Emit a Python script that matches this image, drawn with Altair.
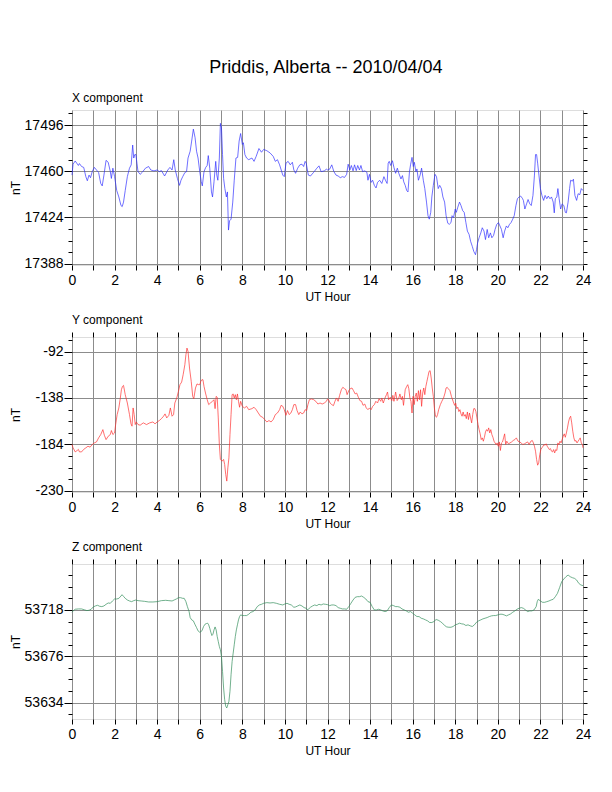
import altair as alt
import pandas as pd

FONT = "Liberation Sans"
GRID = "#8c8c8c"

# ---------------- X component (nT) ----------------
x_hours = [0.00, 0.05, 0.15, 0.30, 0.35, 0.45, 0.55, 0.65, 0.72, 0.80, 0.87, 0.95, 1.05, 1.15, 1.25, 1.35, 1.42, 1.50, 1.60, 1.70,
           1.80, 1.85, 1.92, 2.00, 2.10, 2.20, 2.30, 2.36, 2.42, 2.50, 2.60, 2.70, 2.78, 2.85, 2.90, 2.95, 3.00, 3.05, 3.10, 3.20,
           3.30, 3.45, 3.60, 3.70, 3.85, 4.00, 4.10, 4.20, 4.35, 4.50, 4.60, 4.70, 4.78, 4.85, 4.95, 5.05, 5.12, 5.20, 5.30, 5.38,
           5.45, 5.55, 5.62, 5.70, 5.78, 5.85, 5.92, 6.00, 6.07, 6.12, 6.20, 6.28, 6.35, 6.40, 6.47, 6.55, 6.60, 6.67, 6.75, 6.80,
           6.85, 6.92, 6.97, 7.02, 7.07, 7.12, 7.18, 7.25, 7.30, 7.35, 7.40, 7.47, 7.55, 7.62, 7.70, 7.78, 7.85, 7.92, 8.00, 8.05,
           8.12, 8.20, 8.30, 8.45, 8.55, 8.65, 8.78, 8.90, 9.00, 9.15, 9.30, 9.45, 9.55, 9.65, 9.75, 9.90, 9.97, 10.05, 10.15, 10.25,
           10.35, 10.42, 10.50, 10.60, 10.70, 10.80, 10.88, 10.95, 11.00, 11.10, 11.20, 11.35, 11.50, 11.60, 11.70, 11.85, 11.95, 12.00,
           12.10, 12.20, 12.30, 12.40, 12.50, 12.60, 12.70, 12.80, 12.90, 12.97, 13.05, 13.12, 13.20, 13.27, 13.35, 13.42, 13.50, 13.57,
           13.65, 13.75, 13.85, 13.90, 13.97, 14.05, 14.12, 14.20, 14.28, 14.35, 14.45, 14.55, 14.65, 14.72, 14.80, 14.85, 14.90, 14.97,
           15.05, 15.12, 15.20, 15.28, 15.35, 15.45, 15.52, 15.58, 15.65, 15.72, 15.78, 15.85, 15.90, 15.97, 16.03, 16.08, 16.15, 16.20,
           16.27, 16.35, 16.42, 16.50, 16.57, 16.65, 16.72, 16.78, 16.85, 16.90, 16.97, 17.05, 17.12, 17.20, 17.27, 17.35, 17.42, 17.50,
           17.57, 17.65, 17.72, 17.80, 17.85, 17.92, 18.00, 18.05, 18.12, 18.20, 18.27, 18.35, 18.42, 18.50, 18.57, 18.65, 18.72, 18.80,
           18.87, 18.95, 19.00, 19.05, 19.12, 19.20, 19.27, 19.35, 19.42, 19.50, 19.57, 19.65, 19.72, 19.80, 19.87, 19.95, 20.03, 20.10,
           20.17, 20.25, 20.32, 20.40, 20.47, 20.55, 20.62, 20.70, 20.77, 20.85, 20.92, 21.00, 21.07, 21.15, 21.20, 21.27, 21.35, 21.42,
           21.50, 21.57, 21.65, 21.72, 21.77, 21.82, 21.87, 21.93, 22.00, 22.07, 22.15, 22.22, 22.30, 22.37, 22.45, 22.52, 22.60, 22.65,
           22.70, 22.77, 22.82, 22.88, 22.95, 23.02, 23.10, 23.17, 23.22, 23.30, 23.37, 23.42, 23.50, 23.55, 23.62, 23.70, 23.77, 23.85,
           23.92, 24.00]
x_nt = [17457, 17465.5, 17468, 17464.5, 17466, 17463.7, 17463, 17455.8, 17452.6, 17457, 17455, 17459.7, 17463, 17461, 17459, 17450.5, 17448.6, 17457, 17468.5, 17467,
        17459.7, 17454.4, 17462.4, 17455.8, 17445, 17440, 17433.3, 17432.5, 17436, 17445, 17455.8, 17462.4, 17465, 17480.4, 17470.3, 17473, 17473, 17466.3, 17459.7, 17457.6,
        17459.2, 17462.4, 17463.7, 17461, 17460.3, 17461, 17459.7, 17460.5, 17456.3, 17461, 17463, 17461, 17469, 17461, 17454.4, 17449, 17453, 17455.8, 17459, 17459.7,
        17470.3, 17475.6, 17483.5, 17492.8, 17486.2, 17475.6, 17470.3, 17459.7, 17451.8, 17448.6, 17459.7, 17463, 17464.5, 17472.2, 17462.4, 17443.9, 17440, 17451.8, 17467.7, 17457,
        17453, 17470.3, 17497.3, 17494, 17473, 17454.4, 17446.5, 17440, 17443.9, 17414.2, 17421.4, 17422.7, 17436, 17453, 17470.3, 17470.8, 17483.5, 17489.4, 17480.9, 17482.2,
        17473, 17470.3, 17469, 17470.3, 17467.7, 17471.6, 17477.7, 17474.8, 17477, 17476, 17474.3, 17471.6, 17467.7, 17469, 17465, 17457, 17455.8, 17466.3, 17467.7, 17465,
        17467, 17461, 17458.4, 17462.4, 17465, 17465.5, 17463.7, 17467.7, 17466.3, 17457, 17456.3, 17459.2, 17462.4, 17464.2, 17459.7, 17460.3, 17461.6, 17461,
        17461.6, 17465, 17459.7, 17457, 17456.3, 17455, 17455.8, 17455.2, 17457.6, 17465.5, 17461, 17464.5, 17460.3, 17465, 17460.5, 17464.5, 17461, 17464.5,
        17459.7, 17460.3, 17459.2, 17453, 17457.6, 17451.3, 17453, 17449, 17447, 17451.3, 17453, 17450.5, 17455.8, 17453, 17450.5, 17466.3, 17467.7, 17464.5,
        17468.2, 17463, 17458.4, 17462.4, 17458.4, 17454, 17456.6, 17451.8, 17449, 17445, 17443.9, 17459.7, 17465, 17470.8, 17463.7, 17467, 17459.7, 17461.8,
        17453, 17457, 17462.4, 17453, 17446.5, 17436, 17425.4, 17422.7, 17428, 17440, 17449, 17457.6, 17455.8, 17446.5, 17449, 17446.5, 17440, 17436,
        17425.4, 17419.5, 17418.7, 17420, 17425.4, 17424, 17430.6, 17428, 17432, 17436, 17433.3, 17429.3, 17428, 17420, 17413.4, 17410.8, 17405.5, 17401.5,
        17397.6, 17395, 17398.9, 17404.2, 17408.2, 17412, 17416, 17413.4, 17406.8, 17414.7, 17408.2, 17412, 17408.2, 17410, 17414.7, 17418.7, 17420, 17417.4,
        17414.7, 17408.2, 17413.4, 17417.4, 17416, 17418.7, 17420, 17422.7, 17425.4, 17433.3, 17438.6, 17440, 17440.7, 17439, 17437.3, 17430.6, 17434.6, 17438,
        17434.6, 17433.3, 17441.2, 17457, 17473, 17473, 17466.3, 17457, 17446.5, 17441.2, 17437.3, 17441.2, 17438.6, 17440.7, 17438.6, 17440, 17436, 17427.6,
        17438.6, 17440, 17446.5, 17438.6, 17430.6, 17434.6, 17433.3, 17428, 17427.6, 17436, 17446.5, 17453, 17452.3, 17453.8, 17441.2, 17437.3, 17442.5, 17441.8,
        17446.5, 17445]

# ---------------- Y component (nT) ----------------
y_hours = [0.00, 0.05, 0.15, 0.25, 0.30, 0.35, 0.45, 0.55, 0.65, 0.75, 0.85, 0.95, 1.05, 1.15, 1.25, 1.35, 1.45, 1.52, 1.60, 1.70,
           1.80, 1.85, 1.92, 2.00, 2.05, 2.12, 2.20, 2.27, 2.32, 2.37, 2.42, 2.50, 2.60, 2.70, 2.77, 2.82, 2.87, 2.92, 2.97, 3.02,
           3.10, 3.20, 3.35, 3.50, 3.65, 3.80, 3.90, 4.00, 4.10, 4.20, 4.30, 4.37, 4.45, 4.55, 4.62, 4.70, 4.77, 4.83, 4.92, 5.00,
           5.07, 5.15, 5.22, 5.30, 5.35, 5.40, 5.45, 5.52, 5.60, 5.67, 5.72, 5.80, 5.87, 5.95, 6.00, 6.05, 6.10, 6.15, 6.20, 6.27,
           6.35, 6.42, 6.50, 6.60, 6.67, 6.72, 6.77, 6.82, 6.87, 6.92, 6.97, 7.05, 7.12, 7.17, 7.22, 7.27, 7.32, 7.37, 7.42, 7.47,
           7.52, 7.57, 7.62, 7.67, 7.72, 7.77, 7.82, 7.87, 7.92, 8.00, 8.10, 8.20, 8.30, 8.45, 8.55, 8.65, 8.75, 8.85, 8.95, 9.05,
           9.15, 9.25, 9.35, 9.45, 9.55, 9.65, 9.75, 9.82, 9.90, 9.97, 10.05, 10.12, 10.20, 10.28, 10.35, 10.42, 10.50, 10.57, 10.65, 10.72,
           10.80, 10.88, 10.95, 11.02, 11.08, 11.15, 11.25, 11.35, 11.45, 11.55, 11.65, 11.75, 11.85, 11.95, 12.00,
           12.05, 12.12, 12.20, 12.28, 12.35, 12.42, 12.50, 12.57, 12.65, 12.72, 12.80, 12.87, 12.92, 13.00, 13.07, 13.15, 13.22, 13.30,
           13.37, 13.45, 13.52, 13.60, 13.67, 13.75, 13.82, 13.90, 13.97, 14.05, 14.12, 14.20, 14.27, 14.35, 14.42, 14.50, 14.55, 14.62,
           14.70, 14.77, 14.82, 14.87, 14.95, 15.02, 15.07, 15.12, 15.20, 15.27, 15.35, 15.40, 15.47, 15.52, 15.57, 15.65, 15.72, 15.77,
           15.82, 15.87, 15.92, 15.97, 16.02, 16.07, 16.12, 16.17, 16.22, 16.27, 16.32, 16.37, 16.42, 16.47, 16.52, 16.57, 16.62, 16.67,
           16.72, 16.77, 16.82, 16.87, 16.92, 16.97, 17.02, 17.07, 17.12, 17.17, 17.22, 17.30, 17.37, 17.45, 17.52, 17.57, 17.62, 17.67,
           17.75, 17.82, 17.90, 17.97, 18.02, 18.07, 18.12, 18.17, 18.22, 18.27, 18.32, 18.37, 18.42, 18.47, 18.52, 18.57, 18.62, 18.67,
           18.72, 18.77, 18.82, 18.87, 18.92, 18.97, 19.02, 19.07, 19.12, 19.17, 19.22, 19.27, 19.32, 19.37, 19.42, 19.47, 19.52, 19.57,
           19.62, 19.67, 19.72, 19.77, 19.82, 19.87, 19.92, 19.97, 20.02, 20.07, 20.12, 20.17, 20.22, 20.27, 20.32, 20.37, 20.42, 20.50,
           20.57, 20.65, 20.72, 20.80, 20.87, 20.95, 21.02, 21.10, 21.17, 21.25, 21.32, 21.40, 21.47, 21.55, 21.62, 21.67, 21.72, 21.77,
           21.82, 21.87, 21.92, 21.97, 22.02, 22.07, 22.12, 22.17, 22.22, 22.27, 22.32, 22.37, 22.42, 22.47, 22.52, 22.57, 22.62, 22.67,
           22.72, 22.77, 22.82, 22.87, 22.92, 22.97, 23.02, 23.07, 23.12, 23.17, 23.22, 23.27, 23.32, 23.37, 23.42, 23.47, 23.52, 23.57,
           23.62, 23.67, 23.72, 23.77, 23.82, 23.87, 23.92, 23.97, 24.00]
y_nt = [-184.2, -187.5, -191.5, -190, -189, -191.5, -191.5, -189, -187.5, -185.9, -186.8, -184.2, -182.6, -181.6, -177.6, -174.3, -169.4, -175, -179.3, -176,
        -174.3, -170.3, -174.3, -172.7, -164.4, -154.5, -147.9, -138, -129.8, -126.5, -125.5, -134.7, -143, -154.5, -163.7, -166, -147.9, -154.5, -164.4, -161.8,
        -164.4, -165, -162.7, -164.4, -162.7, -161.8, -163.7, -161.8, -160.4, -158.5, -156.1, -153.8, -157.8, -155.2, -147.9, -156.1, -154.5, -143, -138, -131.4,
        -124.8, -122.2, -114.9, -105, -95.1, -88.5, -91.8, -108.3, -121.5, -136.4, -138.7, -128.1, -124.1, -124.8, -124.8, -121.5, -119.9, -119.9, -126.5, -133.1,
        -139.7, -144.6, -143, -141.3, -139.7, -148.6, -136.4, -137.3, -157.8, -184.2, -199, -200.7, -199, -204, -213.9, -220.5, -207.3, -197.4, -174.3, -154.5,
        -134.7, -134, -138, -134.7, -139.7, -134, -141.3, -147.2, -141.3, -146.3, -147.9, -146.3, -149.6, -148.6, -147.2, -149.6, -152.9, -156.1, -157.1, -159.4,
        -161.8, -160.4, -161.8, -159.4, -154.5, -152.9, -149.6, -145.3, -146.3, -149.6, -155.2, -150.5, -154.5, -152.9, -149.6, -144.6, -144.6, -150.5, -154.5, -151.9,
        -153.8, -152.9, -149.6, -150.5, -144.6, -139.7, -139, -139.7, -141.3, -144, -143, -144, -143, -141.3, -139,
        -139.7, -143, -144.6, -145.6, -141.3, -138, -141.3, -135.4, -129.8, -127.4, -128.8, -129.8, -134.7, -130.7, -128.8, -128.1, -130.7, -134,
        -133.1, -137.3, -140.6, -141.3, -145.3, -144, -147.9, -149.6, -147.9, -149.6, -146.3, -144.6, -141.3, -143, -138.7, -141.3, -138, -143,
        -138, -134.7, -132.1, -139.7, -137.3, -140.6, -135.4, -141.3, -132.1, -140.6, -138, -134, -139.7, -136.4, -145.3, -129.8, -126.5, -124.8,
        -128.8, -138, -141.3, -152.9, -136.4, -144.6, -136.4, -133.1, -141.3, -130.7, -139.7, -129.8, -146.3, -133.1, -128.1, -134.7, -126.5, -121.5,
        -116.6, -111.6, -110.9, -118.2, -128.1, -136.4, -147.9, -156.1, -157.1, -154.5, -149.6, -144.6, -141.3, -138, -133.1, -128.1, -127.4, -128.8,
        -130.7, -136.4, -141.3, -145.3, -143, -148.6, -147.2, -151.5, -149.6, -153.8, -156.1, -151.9, -156.1, -154.5, -158.5, -151.9, -159.4, -152.9,
        -157.8, -162.7, -154.5, -148.6, -148.6, -151.5, -157.8, -164.4, -169.4, -173.6, -179.3, -177.6, -180.9, -177, -171.7, -169.4, -171, -167.7,
        -172.7, -169.4, -174.3, -177, -180.9, -182.6, -184.2, -182.6, -185.9, -181.6, -190.1, -182.6, -181.6, -177.6, -173.6, -184.2, -180.9, -183.5,
        -182.6, -181.6, -180.2, -179.3, -177.6, -180.9, -181.6, -182.6, -184.2, -183.5, -182.6, -181.6, -184.2, -180.9, -180.2, -182.6, -185.9, -190.8,
        -199, -204.7, -202.3, -194.1, -189.2, -187.5, -185.9, -184.2, -184.9, -183.5, -185.9, -187.5, -189.2, -188.2, -190.8, -191.5, -189.2, -192.5,
        -189.2, -190.1, -182.6, -184.2, -180.9, -182.6, -179.3, -176, -173.6, -177, -172.7, -167.7, -161.8, -157.8, -156.1, -162.7, -171, -177.6,
        -180.9, -180.2, -182.6, -180.9, -179.3, -177.6, -182.6, -184.2, -187.5]

# ---------------- Z component (nT) ----------------
z_hours = [0.00, 0.05, 0.15, 0.30, 0.45, 0.60, 0.70, 0.80, 0.90, 1.00, 1.10, 1.20, 1.30, 1.40, 1.50, 1.60, 1.70, 1.80, 1.90, 2.00,
           2.10, 2.20, 2.30, 2.35, 2.42, 2.50, 2.60, 2.70, 2.80, 2.90, 3.00, 3.10, 3.25, 3.40, 3.60, 3.80, 4.00, 4.20, 4.40, 4.55,
           4.70, 4.80, 4.90, 5.00, 5.10, 5.20, 5.27, 5.35, 5.42, 5.50, 5.55, 5.62, 5.70, 5.77, 5.85, 5.92, 6.00, 6.07, 6.12, 6.18,
           6.25, 6.32, 6.37, 6.42, 6.47, 6.52, 6.57, 6.62, 6.67, 6.72, 6.77, 6.82, 6.87, 6.92, 6.97, 7.02, 7.07, 7.12, 7.17, 7.22,
           7.27, 7.32, 7.37, 7.42, 7.47, 7.52, 7.57, 7.62, 7.67, 7.72, 7.77, 7.82, 7.87, 7.92, 8.00, 8.10, 8.20, 8.30, 8.40, 8.50,
           8.60, 8.70, 8.80, 8.90, 9.00, 9.15, 9.30, 9.45, 9.60, 9.75, 9.90, 10.00, 10.10, 10.20, 10.30, 10.42, 10.50, 10.60, 10.70, 10.80,
           10.90, 11.00, 11.05, 11.12, 11.20, 11.30, 11.40, 11.50, 11.60, 11.70, 11.80, 11.90, 12.00,
           12.10, 12.20, 12.30, 12.40, 12.50, 12.60, 12.70, 12.80, 12.90, 13.00, 13.10, 13.20, 13.30, 13.40, 13.50, 13.60, 13.70, 13.80,
           13.90, 14.00, 14.10, 14.20, 14.30, 14.40, 14.50, 14.60, 14.70, 14.80, 14.90, 15.00, 15.10, 15.20, 15.30, 15.40, 15.50, 15.60,
           15.70, 15.80, 15.90, 16.00, 16.10, 16.20, 16.30, 16.40, 16.50, 16.60, 16.70, 16.80, 16.90, 17.00, 17.10, 17.20, 17.30, 17.40,
           17.50, 17.60, 17.70, 17.80, 17.90, 18.00, 18.10, 18.20, 18.30, 18.40, 18.50, 18.60, 18.70, 18.80, 18.90, 19.00, 19.10, 19.20,
           19.30, 19.40, 19.50, 19.60, 19.70, 19.80, 19.90, 20.00, 20.10, 20.20, 20.30, 20.40, 20.50, 20.60, 20.70, 20.80, 20.90, 21.00,
           21.10, 21.20, 21.30, 21.40, 21.50, 21.60, 21.70, 21.80, 21.85, 21.90, 22.00, 22.10, 22.20, 22.30, 22.40, 22.50, 22.60, 22.70,
           22.80, 22.90, 23.00, 23.10, 23.20, 23.30, 23.40, 23.50, 23.60, 23.70, 23.80, 23.90, 24.00]
z_nt = [53715.9, 53717.1, 53718.6, 53718.9, 53718.9, 53718, 53717.4, 53717.7, 53718.6, 53720.7, 53721.6, 53722.2, 53721.3, 53721, 53721.6, 53723.1, 53724.3, 53724, 53726.1, 53727.9,
        53727.9, 53728.5, 53730.6, 53731.8, 53730.3, 53728.5, 53727, 53726.1, 53725.5, 53726.4, 53727, 53726.4, 53726.1, 53725.8, 53725.2, 53725.2, 53725.5, 53726.4, 53726.7, 53726.4,
        53726.1, 53727, 53727.9, 53729.1, 53729.1, 53728.5, 53728.5, 53725.5, 53721, 53716.5, 53711.1, 53709, 53708.1, 53705.1, 53702, 53699, 53697.8, 53698.4, 53699.9, 53703,
        53705.1, 53705.7, 53706, 53704.5, 53701.4, 53697.8, 53694.8, 53696, 53699.9, 53702.6, 53699.9, 53693.9, 53689.4, 53684.9, 53681.9, 53675.9, 53662.3, 53647.3, 53636.7, 53630.7,
        53629.2, 53632.2, 53635.2, 53644.3, 53659.3, 53671.3, 53678.9, 53686.4, 53693.9, 53699.9, 53704.5, 53709, 53712, 53713.5, 53712.9, 53712.9, 53712.9, 53714.1, 53715.9, 53716.5,
        53718, 53721, 53722.5, 53723.1, 53724, 53724.6, 53724.3, 53724.6, 53724, 53723.1, 53722.5, 53723.4, 53724, 53723.1, 53722.5, 53720.4, 53720.7, 53721.6, 53722.5, 53721.6,
        53720.1, 53719.5, 53718.3, 53718.9, 53720.4, 53721.6, 53722.5, 53721.9, 53723.1, 53722.5, 53723.4, 53723.1, 53722.8,
        53721.9, 53722.5, 53722.5, 53721.9, 53720.1, 53719.5, 53718.9, 53718.9, 53718.6, 53721, 53724, 53727, 53729.4, 53730, 53730, 53730.6, 53729.4, 53727.9,
        53725.5, 53724.9, 53721, 53718, 53718, 53718.6, 53718, 53717.1, 53716.5, 53717.1, 53720.1, 53722.5, 53721.9, 53721, 53721, 53720.4, 53718.9, 53718,
        53717.1, 53715.9, 53716.5, 53715, 53713.5, 53712, 53712, 53710.5, 53709.9, 53709, 53708.1, 53706.6, 53706.6, 53707.5, 53709.3, 53708.7, 53707.5, 53706,
        53703.9, 53702.6, 53702.3, 53702.3, 53703, 53704.5, 53705.1, 53706, 53705.4, 53705.1, 53703.9, 53704.5, 53703.6, 53703, 53704.5, 53706.9, 53708.1, 53709,
        53709.9, 53710.5, 53711.1, 53712, 53712.6, 53712.9, 53712.9, 53713.5, 53714.1, 53714.1, 53713.5, 53712.6, 53713.5, 53714.4, 53715.9, 53717.1, 53718.6, 53719.5,
        53720.1, 53719.5, 53718, 53716.5, 53717.1, 53717.1, 53718, 53721, 53725.5, 53727.6, 53726.1, 53724.9, 53724.9, 53725.5, 53726.1, 53727, 53727.6, 53730,
        53733, 53738.2, 53743.6, 53746, 53748.1, 53749.6, 53748.1, 53747.2, 53746.6, 53745.1, 53742.1, 53740.6, 53740]

# axis tick values (major every 4th)
x_ticks = [17388 + 9 * i for i in range(14)]
y_ticks = [-230 + 11.5 * i for i in range(14)]
z_ticks = [53623.5 + 10.5 * i for i in range(13)]
hour_ticks = list(range(25))


def panel(hours, values, color, domain, ticks, base, step, title, top_ticks):
    df = pd.DataFrame({"hour": hours, "nT": values})
    major = f"abs((datum.value - ({base})) % {step}) < 0.001"
    xscale = alt.Scale(domain=[0, 24], nice=False, zero=False)
    yscale = alt.Scale(domain=domain, nice=False, zero=False)
    line = alt.Chart(df).mark_line(color=color, strokeWidth=0.8, opacity=0.85).encode(
        x=alt.X("hour:Q", scale=xscale, axis=alt.Axis(
            values=hour_ticks,
            labelExpr="datum.value % 2 == 0 ? '' + datum.value : ''",
            labelFlush=False, tickSize=5, tickColor="black", domain=False,
            grid=True, gridColor=GRID, gridWidth=1,
            labelFont=FONT, labelFontSize=14, labelColor="black", labelPadding=3,
            title="UT Hour", titleFont=FONT, titleFontSize=12, titleFontWeight="normal",
            titleColor="black", titlePadding=4)),
        y=alt.Y("nT:Q", scale=yscale, axis=alt.Axis(
            values=ticks,
            labelExpr=f"{major} ? '' + datum.value : ''",
            tickSize={"condition": {"test": major, "value": 8}, "value": 4},
            tickColor="black", domain=False,
            grid=True, gridColor=GRID, gridWidth=1,
            gridOpacity={"condition": {"test": major, "value": 1}, "value": 0},
            labelFont=FONT, labelFontSize=14, labelColor="black", labelPadding=1,
            title="nT", titleFont=FONT, titleFontSize=12, titleFontWeight="normal",
            titleColor="black", titleX=-57, titleAngle=270, titleBaseline="middle",
            titleAlign="center")),
    )
    top_axis = alt.Axis(orient="top", values=hour_ticks, labels=False, tickSize=5,
                        tickColor="black", domain=False, grid=False, title=None) if top_ticks else None
    deco = alt.Chart(df).mark_line(opacity=0).encode(
        x=alt.X("hour:Q", scale=xscale, axis=top_axis),
        y=alt.Y("nT:Q", scale=yscale, axis=alt.Axis(
            orient="right", values=ticks, labels=False, tickSize=4, tickColor="black",
            domain=False, grid=False, title=None)),
    )
    return alt.layer(line, deco).resolve_scale(x="independent", y="independent").properties(
        width=511, height=155,
        title=alt.TitleParams(title, anchor="start", frame="group", font=FONT, fontSize=12,
                              fontWeight="normal", color="black", offset=5),
    )


p1 = panel(x_hours, x_nt, "#2b2bff", [17387, 17507.7], x_ticks, 17388, 36, "X component", False)
p2 = panel(y_hours, y_nt, "#ff2b2b", [-231.3, -77.5], y_ticks, -230, 46, "Y component", True)
p3 = panel(z_hours, z_nt, "#2e8b57", [53619.2, 53759.6], z_ticks, 53634, 42, "Z component", True)

chart = alt.vconcat(p1, p2, p3, spacing=72, bounds="flush").properties(
    title=alt.TitleParams("Priddis, Alberta -- 2010/04/04", anchor="middle", font=FONT,
                          fontSize=18, fontWeight="normal", color="black", offset=14.5, dx=26),
    padding={"left": 0, "top": 51, "right": 5, "bottom": 5},
).configure_view(stroke="black", strokeWidth=1.5).configure(background="white")

chart.save("out.html", embed_options={"renderer": "svg", "actions": False})
